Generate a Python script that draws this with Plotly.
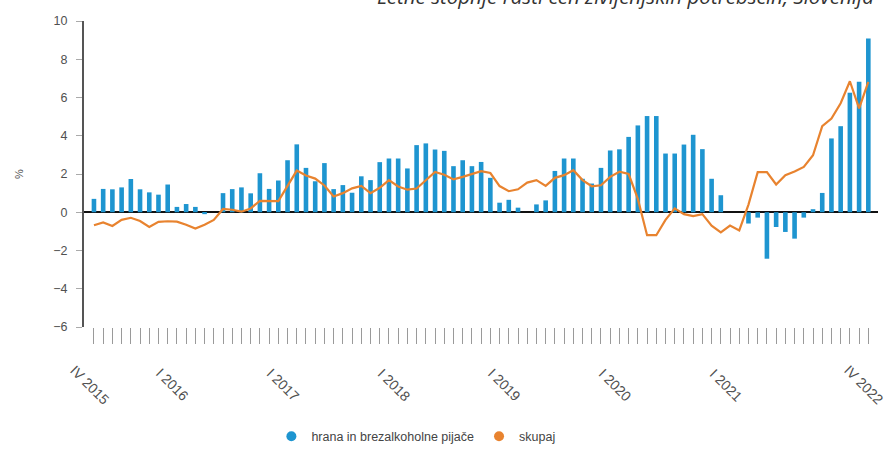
import plotly.graph_objects as go

# --- data -------------------------------------------------------------
roman = ["I", "II", "III", "IV", "V", "VI", "VII", "VIII", "IX", "X", "XI", "XII"]
months = []
for year in range(2015, 2023):
    for m in range(12):
        if (year == 2015 and m < 3) or (year == 2022 and m > 3):
            continue
        months.append(f"{roman[m]} {year}")

# Annual growth, food and non-alcoholic beverages (%)
food = [
    0.7, 1.22, 1.2, 1.3, 1.74, 1.2, 1.04, 0.92, 1.45,          # IV-XII 2015
    0.28, 0.43, 0.28, -0.1, 0.0, 1.0, 1.21, 1.3, 0.99, 2.04, 1.22, 1.66,   # 2016
    2.72, 3.55, 2.32, 1.62, 2.57, 1.21, 1.42, 1.02, 1.88, 1.68, 2.62, 2.81,  # 2017
    2.81, 2.29, 3.51, 3.6, 3.28, 3.21, 2.41, 2.72, 2.41, 2.63, 1.8, 0.5,     # 2018
    0.65, 0.24, 0.0, 0.41, 0.62, 2.16, 2.81, 2.81, 1.75, 1.5, 2.32, 3.23,    # 2019
    3.29, 3.94, 4.54, 5.03, 5.03, 3.07, 3.07, 3.54, 4.05, 3.3, 1.75, 0.89,   # 2020
    0.0, 0.0, -0.59, -0.28, -2.43, -0.77, -1.03, -1.38, -0.28, 0.16, 1.01, 3.86,  # 2021
    4.5, 6.25, 6.82, 9.09,                                      # I-IV 2022
]

# Annual growth, total (%)
total = [
    -0.68, -0.53, -0.72, -0.4, -0.29, -0.46, -0.77, -0.5, -0.47,
    -0.49, -0.65, -0.85, -0.65, -0.4, 0.17, 0.13, 0.03, 0.2, 0.6, 0.6, 0.58,
    1.38, 2.18, 1.92, 1.76, 1.4, 0.82, 1.0, 1.25, 1.38, 1.0, 1.28, 1.68,
    1.35, 1.18, 1.24, 1.66, 2.11, 1.96, 1.72, 1.85, 1.98, 2.15, 2.05, 1.37,
    1.1, 1.2, 1.55, 1.68, 1.38, 1.8, 1.94, 2.2, 1.68, 1.36, 1.41, 1.85,
    2.12, 2.0, 0.7, -1.2, -1.2, -0.4, 0.2, -0.1, -0.2, -0.1, -0.7, -1.05,
    -0.7, -0.95, 0.4, 2.1, 2.1, 1.45, 1.94, 2.13, 2.37, 2.98, 4.5, 4.9,
    5.7, 6.85, 5.43, 6.82,
]

tick_labels = ["IV 2015", "I 2016", "I 2017", "I 2018", "I 2019", "I 2020", "I 2021", "IV 2022"]

series_names = ["hrana in brezalkoholne pijače", "skupaj"]
title_text = "Letne stopnje rasti cen življenjskih potrebščin, Slovenija"

BLUE = "#1e95d0"
ORANGE = "#e8832f"
TXT = "#505050"
FONT = "Liberation Sans, Arial, sans-serif"

# --- figure -----------------------------------------------------------
fig = go.Figure()
fig.add_trace(go.Bar(x=months, y=food, marker=dict(color=BLUE, line=dict(width=0)),
                     showlegend=False, name=series_names[0]))
fig.add_trace(go.Scatter(x=months, y=total, mode="lines",
                         line=dict(color=ORANGE, width=2.2), showlegend=False,
                         name=series_names[1]))
# legend entries (circle symbols)
fig.add_trace(go.Scatter(x=[None], y=[None], mode="markers", name=series_names[0],
                         marker=dict(symbol="circle", size=10, color=BLUE)))
fig.add_trace(go.Scatter(x=[None], y=[None], mode="markers", name=series_names[1],
                         marker=dict(symbol="circle", size=10, color=ORANGE)))

annotations = []
for lab in tick_labels:
    annotations.append(dict(x=lab, xref="x", y=-0.188, yref="paper", text=lab,
                            textangle=45, showarrow=False, xanchor="center",
                            yanchor="middle", xshift=-4,
                            font=dict(family=FONT, size=14, color=TXT)))
annotations.append(dict(x=-0.092, xref="paper", y=0.5, yref="paper", text="%",
                        textangle=-90, showarrow=False,
                        font=dict(family=FONT, size=11, color=TXT)))
annotations.append(dict(x=0.3665, xref="paper", y=1.0818, yref="paper", text=title_text,
                        showarrow=False, xanchor="left", yanchor="middle",
                        font=dict(family="Open Sans, sans-serif", size=20.5, color="#333333",
                                  style="italic")))

fig.update_layout(
    width=889, height=452,
    margin=dict(l=84, r=11, t=21, b=125.4, autoexpand=False),
    paper_bgcolor="white", plot_bgcolor="white",
    bargap=0.5,
    font=dict(family=FONT, size=12, color=TXT),
    xaxis=dict(type="category", range=[-1.08, 85.05], tickmode="array",
               tickvals=months, ticktext=[""] * len(months), ticks="outside",
               ticklen=16, tickwidth=1, tickcolor="#9a9a9a", showticklabels=False,
               showgrid=False, showline=False, zeroline=False),
    yaxis=dict(range=[-6, 10], dtick=2, showgrid=False, showline=True,
               linecolor="#555555", linewidth=2, ticks="outside", ticklen=6,
               tickcolor="#aaaaaa", zeroline=True, zerolinecolor="#111111",
               zerolinewidth=1.5, tickfont=dict(family=FONT, size=12.5, color=TXT),
               ticklabelstandoff=6),
    legend=dict(orientation="h", x=0.236, xanchor="left", y=-0.358, yanchor="middle",
                font=dict(family=FONT, size=12.5, color="#444444"),
                itemwidth=30, bgcolor="rgba(0,0,0,0)"),
    annotations=annotations,
)

fig.write_html("out.html", config={"displayModeBar": False},
               post_script="document.body.style.margin='0px';")
